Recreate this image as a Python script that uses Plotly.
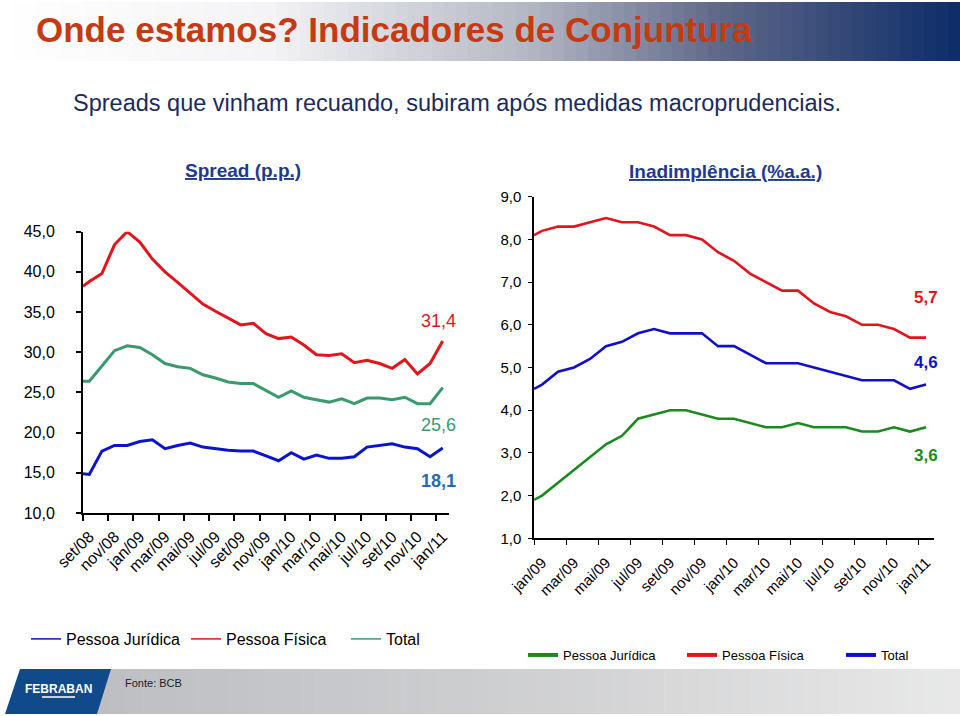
import plotly.graph_objects as go

W, H = 960, 716

# ---------------- data ----------------
spread_months = ["set/08", "out/08", "nov/08", "dez/08", "jan/09", "fev/09", "mar/09", "abr/09",
                 "mai/09", "jun/09", "jul/09", "ago/09", "set/09", "out/09", "nov/09", "dez/09",
                 "jan/10", "fev/10", "mar/10", "abr/10", "mai/10", "jun/10", "jul/10", "ago/10",
                 "set/10", "out/10", "nov/10", "dez/10", "jan/11"]
# first value of each series is the point drawn on the axis edge, then one value per month
spread_pf = [38.2, 38.8, 39.8, 43.4, 45.0, 43.7, 41.6, 40.0, 38.7, 37.4, 36.0, 35.1, 34.3, 33.4, 33.6,
             32.3, 31.7, 31.9, 30.9, 29.7, 29.6, 29.8, 28.7, 29.0, 28.6, 28.0, 29.1, 27.3, 28.6, 31.4]
spread_total = [26.4, 26.4, 28.3, 30.2, 30.8, 30.6, 29.7, 28.6, 28.2, 28.0, 27.2, 26.8, 26.3, 26.1, 26.1,
                25.2, 24.4, 25.2, 24.4, 24.1, 23.8, 24.2, 23.6, 24.3, 24.3, 24.1, 24.4, 23.6, 23.6, 25.6]
spread_pj = [14.9, 14.8, 17.7, 18.4, 18.4, 18.9, 19.1, 18.0, 18.4, 18.7, 18.2, 18.0, 17.8, 17.7, 17.7,
             17.1, 16.5, 17.5, 16.7, 17.2, 16.8, 16.8, 17.0, 18.2, 18.4, 18.6, 18.2, 18.0, 17.0, 18.1]

inad_months = ["jan/09", "fev/09", "mar/09", "abr/09", "mai/09", "jun/09", "jul/09", "ago/09",
               "set/09", "out/09", "nov/09", "dez/09", "jan/10", "fev/10", "mar/10", "abr/10",
               "mai/10", "jun/10", "jul/10", "ago/10", "set/10", "out/10", "nov/10", "dez/10", "jan/11"]
inad_pf = [8.1, 8.2, 8.3, 8.3, 8.4, 8.5, 8.4, 8.4, 8.3, 8.1, 8.1, 8.0, 7.7, 7.5, 7.2, 7.0, 6.8, 6.8,
           6.5, 6.3, 6.2, 6.0, 6.0, 5.9, 5.7, 5.7]
inad_total = [4.5, 4.6, 4.9, 5.0, 5.2, 5.5, 5.6, 5.8, 5.9, 5.8, 5.8, 5.8, 5.5, 5.5, 5.3, 5.1, 5.1, 5.1,
              5.0, 4.9, 4.8, 4.7, 4.7, 4.7, 4.5, 4.6]
inad_pj = [1.9, 2.0, 2.3, 2.6, 2.9, 3.2, 3.4, 3.8, 3.9, 4.0, 4.0, 3.9, 3.8, 3.8, 3.7, 3.6, 3.6, 3.7,
           3.6, 3.6, 3.6, 3.5, 3.5, 3.6, 3.5, 3.6]

legend_names = ["Pessoa Jurídica", "Pessoa Física", "Total"]

# ---------------- style ----------------
FONT = "Liberation Sans, Arial, sans-serif"
L_RED, L_GREEN, L_BLUE = "#e3141c", "#3a9a6e", "#0a14cc"
R_RED, R_GREEN, R_BLUE = "#e3141c", "#1a8a1f", "#1010cc"


def px(x):
    return x / W


def py(y):
    return 1 - y / H


x_spread = [-0.5] + list(range(len(spread_months)))
x_inad = [-0.5] + list(range(len(inad_months)))

fig = go.Figure()

for vals, col in [(spread_pf, L_RED), (spread_total, L_GREEN), (spread_pj, L_BLUE)]:
    fig.add_trace(go.Scatter(x=x_spread, y=vals, mode="lines", line=dict(color=col, width=3),
                             showlegend=False, hoverinfo="skip", xaxis="x", yaxis="y"))
for vals, col in [(inad_pf, R_RED), (inad_total, R_BLUE), (inad_pj, R_GREEN)]:
    fig.add_trace(go.Scatter(x=x_inad, y=vals, mode="lines", line=dict(color=col, width=2.6),
                             showlegend=False, hoverinfo="skip", xaxis="x2", yaxis="y2"))

for name, col in zip(legend_names, [L_BLUE, L_RED, L_GREEN]):
    fig.add_trace(go.Scatter(x=[None], y=[None], mode="lines", name=name,
                             line=dict(color=col, width=1.5), legend="legend", xaxis="x", yaxis="y"))
for name, col in zip(legend_names, [R_GREEN, R_RED, R_BLUE]):
    fig.add_trace(go.Scatter(x=[None], y=[None], mode="lines", name=name,
                             line=dict(color=col, width=4), legend="legend2", xaxis="x2", yaxis="y2"))

axis_common = dict(showline=True, linecolor="black", showgrid=False, zeroline=False,
                   tickcolor="black", fixedrange=True, automargin=False)

fig.update_layout(
    width=W, height=H, autosize=False,
    margin=dict(l=0, r=0, t=0, b=0, pad=0, autoexpand=False),
    paper_bgcolor="white", plot_bgcolor="rgba(0,0,0,0)",
    separators=",.",
    font=dict(family=FONT, color="black"),
    xaxis=dict(axis_common, domain=[px(83), px(449)], range=[-0.5, len(spread_months) - 0.5],
               anchor="y", linewidth=2,
               tickmode="array", tickvals=list(range(0, len(spread_months), 2)),
               ticktext=spread_months[::2], ticks="", tickangle=-45, ticklabelstandoff=6,
               tickfont=dict(size=16, family=FONT),
               minor=dict(tickmode="array", tickvals=[v - 0.5 for v in range(0, len(spread_months), 2)],
                          ticks="outside", ticklen=6, tickwidth=1.5, tickcolor="black")),
    yaxis=dict(axis_common, domain=[py(513), py(231.7)], range=[10, 45], anchor="x", linewidth=2,
               dtick=5, tickformat=".1f", ticks="outside", ticklen=5, tickwidth=1.5,
               ticklabelstandoff=18, tickfont=dict(size=16, family=FONT)),
    xaxis2=dict(axis_common, domain=[px(534), px(934)], range=[-0.5, len(inad_months) - 0.5],
                anchor="y2", linewidth=1.5,
                tickmode="array", tickvals=list(range(0, len(inad_months), 2)),
                ticktext=inad_months[::2], ticks="", tickangle=-45, ticklabelstandoff=8,
                tickfont=dict(size=15, family=FONT),
                minor=dict(tickmode="array", tickvals=[v - 0.5 for v in range(0, len(inad_months), 2)],
                           ticks="outside", ticklen=5, tickwidth=1.2, tickcolor="black")),
    yaxis2=dict(axis_common, domain=[py(538.3), py(196.7)], range=[1, 9], anchor="x2", linewidth=1.5,
                dtick=1, tickformat=".1f", ticks="outside", ticklen=4, tickwidth=1.2,
                ticklabelstandoff=4, tickfont=dict(size=15, family=FONT)),
    legend=dict(orientation="h", x=px(26), y=py(639), xanchor="left", yanchor="middle",
                font=dict(size=16, family=FONT), bgcolor="rgba(0,0,0,0)",
                entrywidth=115, itemwidth=30),
    legend2=dict(orientation="h", x=px(523), y=py(655), xanchor="left", yanchor="middle",
                 font=dict(size=13, family=FONT), bgcolor="rgba(0,0,0,0)",
                 entrywidth=114, itemwidth=30),
)

shapes = []


def hex2rgb(h):
    h = h.lstrip("#")
    return tuple(int(h[i:i + 2], 16) for i in (0, 2, 4))


def interp(stops, t):
    for (t0, c0), (t1, c1) in zip(stops, stops[1:]):
        if t0 <= t <= t1:
            f = 0 if t1 == t0 else (t - t0) / (t1 - t0)
            a, b = hex2rgb(c0), hex2rgb(c1)
            return "rgb(%d,%d,%d)" % tuple(round(a[i] + (b[i] - a[i]) * f) for i in range(3))
    return stops[-1][1]


banner_stops = [(0, "#ffffff"), (0.28, "#f4f4f6"), (0.55, "#b4b8c4"), (0.75, "#5e6788"), (1.0, "#0c2c68")]
N = 80
for i in range(N):
    x0 = W * i / N
    x1 = W * (i + 1) / N + 0.6
    shapes.append(dict(type="rect", xref="paper", yref="paper", x0=px(x0), x1=px(x1),
                       y0=py(61), y1=py(2), fillcolor=interp(banner_stops, (i + 0.5) / N),
                       line=dict(width=0), layer="below"))

foot_stops = [(0, "#bcbec2"), (0.5, "#cfd0d2"), (1.0, "#e8e8e8")]
M = 50
for i in range(M):
    x0 = 90 + (W - 90) * i / M
    x1 = 90 + (W - 90) * (i + 1) / M + 0.6
    shapes.append(dict(type="rect", xref="paper", yref="paper", x0=px(x0), x1=px(x1),
                       y0=py(714), y1=py(669), fillcolor=interp(foot_stops, (i + 0.5) / M),
                       line=dict(width=0), layer="below"))
shapes.append(dict(type="path", xref="paper", yref="paper",
                   path="M %f,%f L %f,%f L %f,%f L %f,%f Z" % (px(20), py(669), px(111), py(669),
                                                              px(97), py(714), px(5), py(714)),
                   fillcolor="#104a8a", line=dict(width=0), layer="below"))
shapes.append(dict(type="line", xref="paper", yref="paper", x0=px(42), x1=px(75), y0=py(697), y1=py(697),
                   line=dict(color="white", width=1.5)))
fig.update_layout(shapes=shapes)

ann = []


def paper_text(text, x, y, size, family, color, xanchor="left"):
    ann.append(dict(text=text, xref="paper", yref="paper", x=px(x), y=py(y), xanchor=xanchor,
                    yanchor="middle", showarrow=False, font=dict(size=size, family=family, color=color)))


paper_text("<b>Onde estamos? Indicadores de Conjuntura</b>", 34, 29, 35, FONT, "#c63a12")
paper_text("Spreads que vinham recuando, subiram após medidas macroprudenciais.", 71, 103, 23.5, FONT, "#1b2a5e")
paper_text("<b><u>Spread (p.p.)</u></b>", 243, 170, 19, FONT, "#1f3a8c", "center")
paper_text("<b><u>Inadimplência (%a.a.)</u></b>", 725, 171, 19, FONT, "#1f3a8c", "center")
paper_text("<b>FEBRABAN</b>", 58, 689, 12, FONT, "white", "center")
paper_text("Fonte: BCB", 123, 683, 11, FONT, "#222222")


def fmt(v):
    return ("%.1f" % v).replace(".", ",")


for vals, col, dy, bold in [(spread_pf, L_RED, 20, False), (spread_total, L_GREEN, -37, False),
                            (spread_pj, "#1f6db5", -33, True)]:
    t = fmt(vals[-1])
    ann.append(dict(text=("<b>%s</b>" % t) if bold else t, x=x_spread[-1], y=vals[-1], xref="x", yref="y",
                    xanchor="center", yanchor="middle", xshift=-4, yshift=dy, showarrow=False,
                    font=dict(size=18, family=FONT, color=col)))
for vals, col, dy in [(inad_pf, R_RED, 40), (inad_total, R_BLUE, 22), (inad_pj, R_GREEN, -28)]:
    ann.append(dict(text="<b>%s</b>" % fmt(vals[-1]), x=x_inad[-1], y=vals[-1], xref="x2", yref="y2",
                    xanchor="center", yanchor="middle", xshift=0, yshift=dy, showarrow=False,
                    font=dict(size=17, family=FONT, color=col)))

fig.update_layout(annotations=ann)

fig.write_html("out.html", include_plotlyjs=True, config={"displayModeBar": False},
               post_script="document.body.style.margin='0px';")
